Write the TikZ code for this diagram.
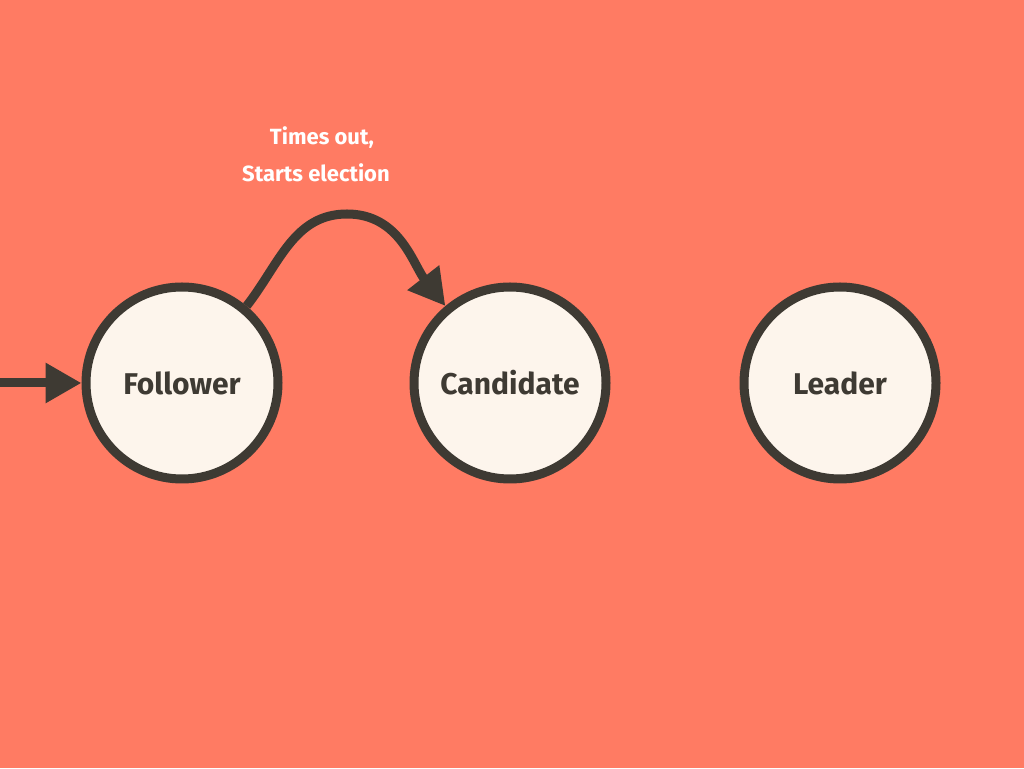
\documentclass[tikz,border=0pt]{standalone}
\usepackage{fontspec}
\setmainfont{Fira Sans}
\usepackage{tikz}
\usetikzlibrary{arrows.meta,positioning}
\definecolor{coral}{HTML}{FF7B63}
\definecolor{cream}{HTML}{FDF5EC}
\definecolor{ink}{HTML}{3E3A33}
\tikzset{
  state/.style={draw=ink, circle, line width=9pt, fill=cream, inner sep=0pt,
                minimum size=192pt, text=ink, font=\fontsize{30}{36}\selectfont\bfseries},
  note/.style={text=white, font=\fontsize{22}{26}\selectfont\bfseries},
  flow/.style={-{Triangle[length=36pt,width=38pt]}, draw=ink, line width=9pt},
}

\begin{document}
\begin{tikzpicture}[x=1pt, y=1pt]
  \useasboundingbox (0,0) rectangle (1024,768);
  \fill[coral] (0,0) rectangle (1024,768);
  \node[state] (fol) at (182,385) {Follower};
  \node[state] (cand) at (510,385) {Candidate};
  \node[state] (lead) at (840,385) {Leader};
  \node[note] (times) at (322,630) {Times out,};
  \node[note] (starts) at (316,595) {Starts election};
  \coordinate (entry) at (0,385);
  \coordinate (peak) at (347,554);
  \draw[flow] (entry) -- (fol);
  \draw[flow] (fol.50) to[out=52, in=180] (peak) to[out=0, in=128] (cand.130);
\end{tikzpicture}
\end{document}
